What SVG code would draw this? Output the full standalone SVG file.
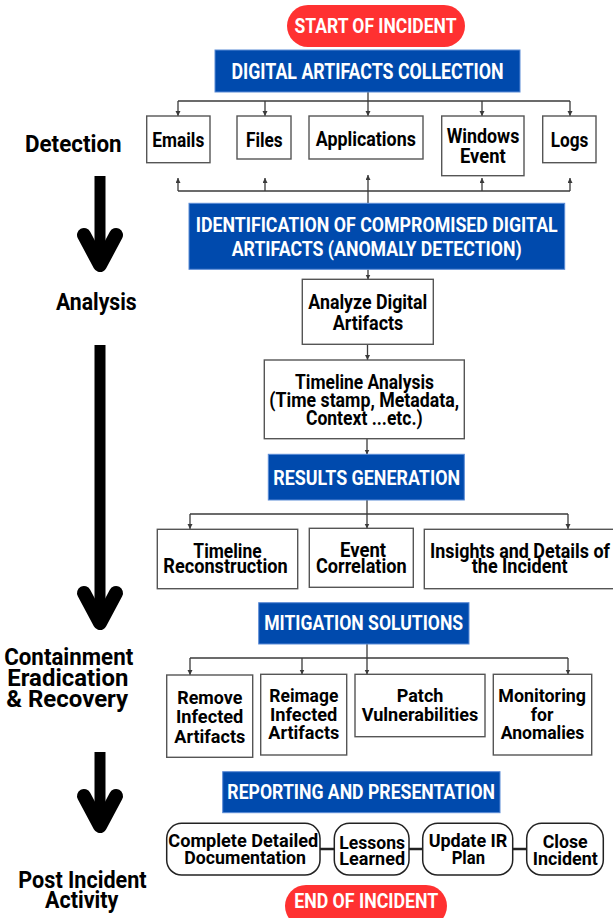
<svg xmlns="http://www.w3.org/2000/svg" width="613" height="918" viewBox="0 0 613 918">
<defs>
<style>
.pill{fill:#ff3131}
.blue{fill:#004aad;stroke:#5b8bd6;stroke-width:1}
.box{fill:#fff;stroke:#555;stroke-width:1.4}
.rbox{fill:#fff;stroke:#222;stroke-width:1.5}
.wt{font-family:Roboto,"Liberation Sans",sans-serif;font-weight:700;fill:#fff;text-anchor:middle;font-size:20px}
.bt{font-family:Roboto,"Liberation Sans",sans-serif;font-weight:700;fill:#000;text-anchor:middle;font-size:20px}
.lt{font-family:Roboto,"Liberation Sans",sans-serif;font-weight:700;fill:#000;text-anchor:middle;font-size:23.5px}
.c{fill:none;stroke:#3a3a3a;stroke-width:1.3}
.ca{fill:none;stroke:#3a3a3a;stroke-width:1.3;marker-end:url(#ah)}
.link{fill:none;stroke:#222;stroke-width:2.5}
.shaft{fill:none;stroke:#000;stroke-width:11}
.head{fill:none;stroke:#000;stroke-width:14;stroke-linecap:round;stroke-linejoin:round}
</style>
<marker id="ah" markerUnits="userSpaceOnUse" markerWidth="6" markerHeight="6" refX="5" refY="2.5" orient="auto">
<path d="M0,0 L5,2.5 L0,5 z" fill="#3a3a3a"/>
</marker>
</defs>

<g id="phase-arrows">
<line class="shaft" x1="100" y1="176" x2="100" y2="262"/>
<polyline class="head" points="84,235 100,265 116,235"/>
<line class="shaft" x1="100" y1="345" x2="100" y2="620"/>
<polyline class="head" points="84,593 100,623 116,593"/>
<line class="shaft" x1="100" y1="752" x2="100" y2="823"/>
<polyline class="head" points="84,796 100,826 116,796"/>
</g>

<g id="phase-labels">
<text class="lt" x="73.3" y="151.7" textLength="96.7" lengthAdjust="spacingAndGlyphs">Detection</text>
<text class="lt" x="96.3" y="310" textLength="80.7" lengthAdjust="spacingAndGlyphs">Analysis</text>
<text class="lt" x="68.7" y="665" textLength="129" lengthAdjust="spacingAndGlyphs">Containment</text>
<text class="lt" x="67.8" y="685.5" textLength="121" lengthAdjust="spacingAndGlyphs">Eradication</text>
<text class="lt" x="67.2" y="706.7" textLength="122" lengthAdjust="spacingAndGlyphs">&amp; Recovery</text>
<text class="lt" x="82.5" y="888" textLength="128.3" lengthAdjust="spacingAndGlyphs">Post Incident</text>
<text class="lt" x="81.7" y="907.5" textLength="73.3" lengthAdjust="spacingAndGlyphs">Activity</text>
</g>

<g id="connectors">
<polyline class="c" points="368,92 368,101"/>
<line class="c" x1="178" y1="101" x2="570" y2="101"/>
<line class="ca" x1="178" y1="101" x2="178" y2="116"/>
<line class="ca" x1="265" y1="101" x2="265" y2="116"/>
<line class="ca" x1="368" y1="101" x2="368" y2="116"/>
<line class="ca" x1="482" y1="101" x2="482" y2="116"/>
<line class="ca" x1="570" y1="101" x2="570" y2="116"/>
<line class="c" x1="178" y1="191" x2="570" y2="191"/>
<line class="c" x1="368" y1="203" x2="368" y2="191"/>
<line class="ca" x1="178" y1="191" x2="178" y2="178"/>
<line class="ca" x1="265" y1="191" x2="265" y2="178"/>
<line class="ca" x1="368" y1="191" x2="368" y2="175"/>
<line class="ca" x1="482" y1="191" x2="482" y2="178"/>
<line class="ca" x1="570" y1="191" x2="570" y2="178"/>
<line class="ca" x1="368" y1="269.5" x2="368" y2="279.5"/>
<line class="ca" x1="367.5" y1="344.5" x2="367.5" y2="360"/>
<line class="ca" x1="367" y1="439" x2="367" y2="454.5"/>
<line class="c" x1="367" y1="500" x2="367" y2="514"/>
<line class="c" x1="190" y1="514" x2="568" y2="514"/>
<line class="ca" x1="190" y1="514" x2="190" y2="529"/>
<line class="ca" x1="367" y1="514" x2="367" y2="528.5"/>
<line class="ca" x1="568" y1="514" x2="568" y2="529"/>
<line class="c" x1="367" y1="644" x2="367" y2="658"/>
<line class="c" x1="190" y1="658" x2="568" y2="658"/>
<line class="ca" x1="190" y1="658" x2="190" y2="675"/>
<line class="ca" x1="302" y1="658" x2="302" y2="674.5"/>
<line class="ca" x1="367" y1="658" x2="367" y2="674.5"/>
<line class="ca" x1="568" y1="658" x2="568" y2="674.5"/>
<line class="link" x1="320" y1="849" x2="334.3" y2="849"/>
<line class="link" x1="409" y1="849" x2="422.7" y2="849"/>
<line class="link" x1="512.7" y1="849" x2="526.7" y2="849"/>
</g>

<g id="start">
<rect class="pill" x="287" y="5" width="178" height="42" rx="21"/>
<text class="wt" x="375.5" y="33.3" textLength="162" lengthAdjust="spacingAndGlyphs">START OF INCIDENT</text>
</g>

<g id="collection">
<rect class="blue" x="215" y="50" width="305" height="42"/>
<text class="wt" style="font-size:22px" x="367.5" y="79" textLength="272" lengthAdjust="spacingAndGlyphs">DIGITAL ARTIFACTS COLLECTION</text>
</g>

<g id="emails">
<rect class="box" x="146.7" y="116" width="63.3" height="46.7"/>
<text class="bt" x="178.3" y="146.7" textLength="52" lengthAdjust="spacingAndGlyphs">Emails</text>
</g>
<g id="files">
<rect class="box" x="237" y="116" width="54" height="43"/>
<text class="bt" x="264.3" y="146.7" textLength="36.7" lengthAdjust="spacingAndGlyphs">Files</text>
</g>
<g id="applications">
<rect class="box" x="309" y="116" width="114" height="43"/>
<text class="bt" x="365.8" y="146.3" textLength="100" lengthAdjust="spacingAndGlyphs">Applications</text>
</g>
<g id="windows-event">
<rect class="box" x="441.7" y="116" width="82.3" height="59.7"/>
<text class="bt" x="483" y="143.3" textLength="72.7" lengthAdjust="spacingAndGlyphs">Windows</text>
<text class="bt" x="482.8" y="163.3" textLength="45.7" lengthAdjust="spacingAndGlyphs">Event</text>
</g>
<g id="logs">
<rect class="box" x="542.7" y="116" width="53.3" height="46.7"/>
<text class="bt" x="569.5" y="146.7" textLength="37.7" lengthAdjust="spacingAndGlyphs">Logs</text>
</g>

<g id="identification">
<rect class="blue" x="189" y="203.3" width="375.7" height="66"/>
<text class="wt" x="376.7" y="231.7" textLength="362" lengthAdjust="spacingAndGlyphs">IDENTIFICATION OF COMPROMISED DIGITAL</text>
<text class="wt" x="376.7" y="255.7" textLength="290" lengthAdjust="spacingAndGlyphs">ARTIFACTS (ANOMALY DETECTION)</text>
</g>

<g id="analyze">
<rect class="box" x="302.3" y="279.3" width="131" height="65"/>
<text class="bt" style="font-size:21px" x="367.8" y="309" textLength="119" lengthAdjust="spacingAndGlyphs">Analyze Digital</text>
<text class="bt" style="font-size:21px" x="368" y="330" textLength="70.7" lengthAdjust="spacingAndGlyphs">Artifacts</text>
</g>

<g id="timeline-analysis">
<rect class="box" x="264.3" y="360" width="200" height="78.7"/>
<text class="bt" style="font-size:20.5px" x="364.5" y="389" textLength="139" lengthAdjust="spacingAndGlyphs">Timeline Analysis</text>
<text class="bt" style="font-size:20.5px" x="364.2" y="406.7" textLength="189.7" lengthAdjust="spacingAndGlyphs">(Time stamp, Metadata,</text>
<text class="bt" style="font-size:20.5px" x="364.3" y="425" textLength="116.7" lengthAdjust="spacingAndGlyphs">Context ...etc.)</text>
</g>

<g id="results">
<rect class="blue" x="268.3" y="454.3" width="196" height="45.7"/>
<text class="wt" x="366.7" y="485" textLength="186.7" lengthAdjust="spacingAndGlyphs">RESULTS GENERATION</text>
</g>

<g id="timeline-reconstruction">
<rect class="box" x="157.3" y="529.3" width="140.4" height="59.4"/>
<text class="bt" x="227.5" y="558.3" textLength="68.3" lengthAdjust="spacingAndGlyphs">Timeline</text>
<text class="bt" x="225.5" y="573.3" textLength="124.3" lengthAdjust="spacingAndGlyphs">Reconstruction</text>
</g>
<g id="event-correlation">
<rect class="box" x="309.3" y="528.3" width="104" height="59"/>
<text class="bt" x="363" y="557.3" textLength="46" lengthAdjust="spacingAndGlyphs">Event</text>
<text class="bt" x="361.3" y="572.7" textLength="90.7" lengthAdjust="spacingAndGlyphs">Correlation</text>
</g>
<g id="insights">
<rect class="box" x="424.3" y="529.3" width="192" height="59.4"/>
<text class="bt" x="520" y="558.3" textLength="180" lengthAdjust="spacingAndGlyphs">Insights and Details of</text>
<text class="bt" x="519.7" y="573.3" textLength="96" lengthAdjust="spacingAndGlyphs">the Incident</text>
</g>

<g id="mitigation">
<rect class="blue" x="258.7" y="602.7" width="210.3" height="41.3"/>
<text class="wt" x="363.7" y="630" textLength="199" lengthAdjust="spacingAndGlyphs">MITIGATION SOLUTIONS</text>
</g>

<g id="remove">
<rect class="box" x="166.7" y="675" width="86" height="82.3"/>
<text class="bt" style="font-size:19px" x="209.8" y="704" textLength="65" lengthAdjust="spacingAndGlyphs">Remove</text>
<text class="bt" style="font-size:19px" x="209.7" y="723.3" textLength="67.3" lengthAdjust="spacingAndGlyphs">Infected</text>
<text class="bt" style="font-size:19px" x="209.8" y="742.7" textLength="71" lengthAdjust="spacingAndGlyphs">Artifacts</text>
</g>
<g id="reimage">
<rect class="box" x="260.7" y="674.3" width="86" height="80.7"/>
<text class="bt" style="font-size:19px" x="303.8" y="702.3" textLength="69" lengthAdjust="spacingAndGlyphs">Reimage</text>
<text class="bt" style="font-size:19px" x="303.7" y="720.7" textLength="67.3" lengthAdjust="spacingAndGlyphs">Infected</text>
<text class="bt" style="font-size:19px" x="303.8" y="739" textLength="71" lengthAdjust="spacingAndGlyphs">Artifacts</text>
</g>
<g id="patch">
<rect class="box" x="355" y="674.3" width="130" height="62.4"/>
<text class="bt" style="font-size:19px" x="420" y="702.3" textLength="46.7" lengthAdjust="spacingAndGlyphs">Patch</text>
<text class="bt" style="font-size:19px" x="420" y="720.7" textLength="116.7" lengthAdjust="spacingAndGlyphs">Vulnerabilities</text>
</g>
<g id="monitoring">
<rect class="box" x="493.3" y="674.3" width="98.4" height="80.7"/>
<text class="bt" style="font-size:19px" x="542.2" y="702.3" textLength="87.7" lengthAdjust="spacingAndGlyphs">Monitoring</text>
<text class="bt" style="font-size:19px" x="542" y="720.7" textLength="22.7" lengthAdjust="spacingAndGlyphs">for</text>
<text class="bt" style="font-size:19px" x="542.5" y="739" textLength="83.7" lengthAdjust="spacingAndGlyphs">Anomalies</text>
</g>

<g id="reporting">
<rect class="blue" x="222.7" y="771.7" width="277.3" height="41"/>
<text class="wt" x="361.2" y="799" textLength="267.7" lengthAdjust="spacingAndGlyphs">REPORTING AND PRESENTATION</text>
</g>

<g id="documentation">
<rect class="rbox" x="166.7" y="823.3" width="153.3" height="51.7" rx="15"/>
<text class="bt" style="font-size:19px" x="243.3" y="847.3" textLength="150" lengthAdjust="spacingAndGlyphs">Complete Detailed</text>
<text class="bt" style="font-size:19px" x="245.2" y="864" textLength="121.7" lengthAdjust="spacingAndGlyphs">Documentation</text>
</g>
<g id="lessons">
<rect class="rbox" x="334.3" y="823.3" width="74.7" height="51.7" rx="15"/>
<text class="bt" style="font-size:19px" x="372.2" y="849.3" textLength="65.7" lengthAdjust="spacingAndGlyphs">Lessons</text>
<text class="bt" style="font-size:19px" x="372.2" y="865" textLength="65.7" lengthAdjust="spacingAndGlyphs">Learned</text>
</g>
<g id="update-ir">
<rect class="rbox" x="422.7" y="823.3" width="90" height="51.7" rx="15"/>
<text class="bt" style="font-size:19px" x="468" y="847.3" textLength="78.7" lengthAdjust="spacingAndGlyphs">Update IR</text>
<text class="bt" style="font-size:19px" x="468.3" y="864" textLength="33.3" lengthAdjust="spacingAndGlyphs">Plan</text>
</g>
<g id="close">
<rect class="rbox" x="526.7" y="823.3" width="76.6" height="51.7" rx="15"/>
<text class="bt" style="font-size:19px" x="565.2" y="848.3" textLength="45" lengthAdjust="spacingAndGlyphs">Close</text>
<text class="bt" style="font-size:19px" x="565.2" y="865" textLength="65" lengthAdjust="spacingAndGlyphs">Incident</text>
</g>

<g id="end">
<rect class="pill" x="285" y="885" width="162" height="42" rx="21"/>
<text class="wt" x="366.2" y="908.3" textLength="144" lengthAdjust="spacingAndGlyphs">END OF INCIDENT</text>
</g>
</svg>
